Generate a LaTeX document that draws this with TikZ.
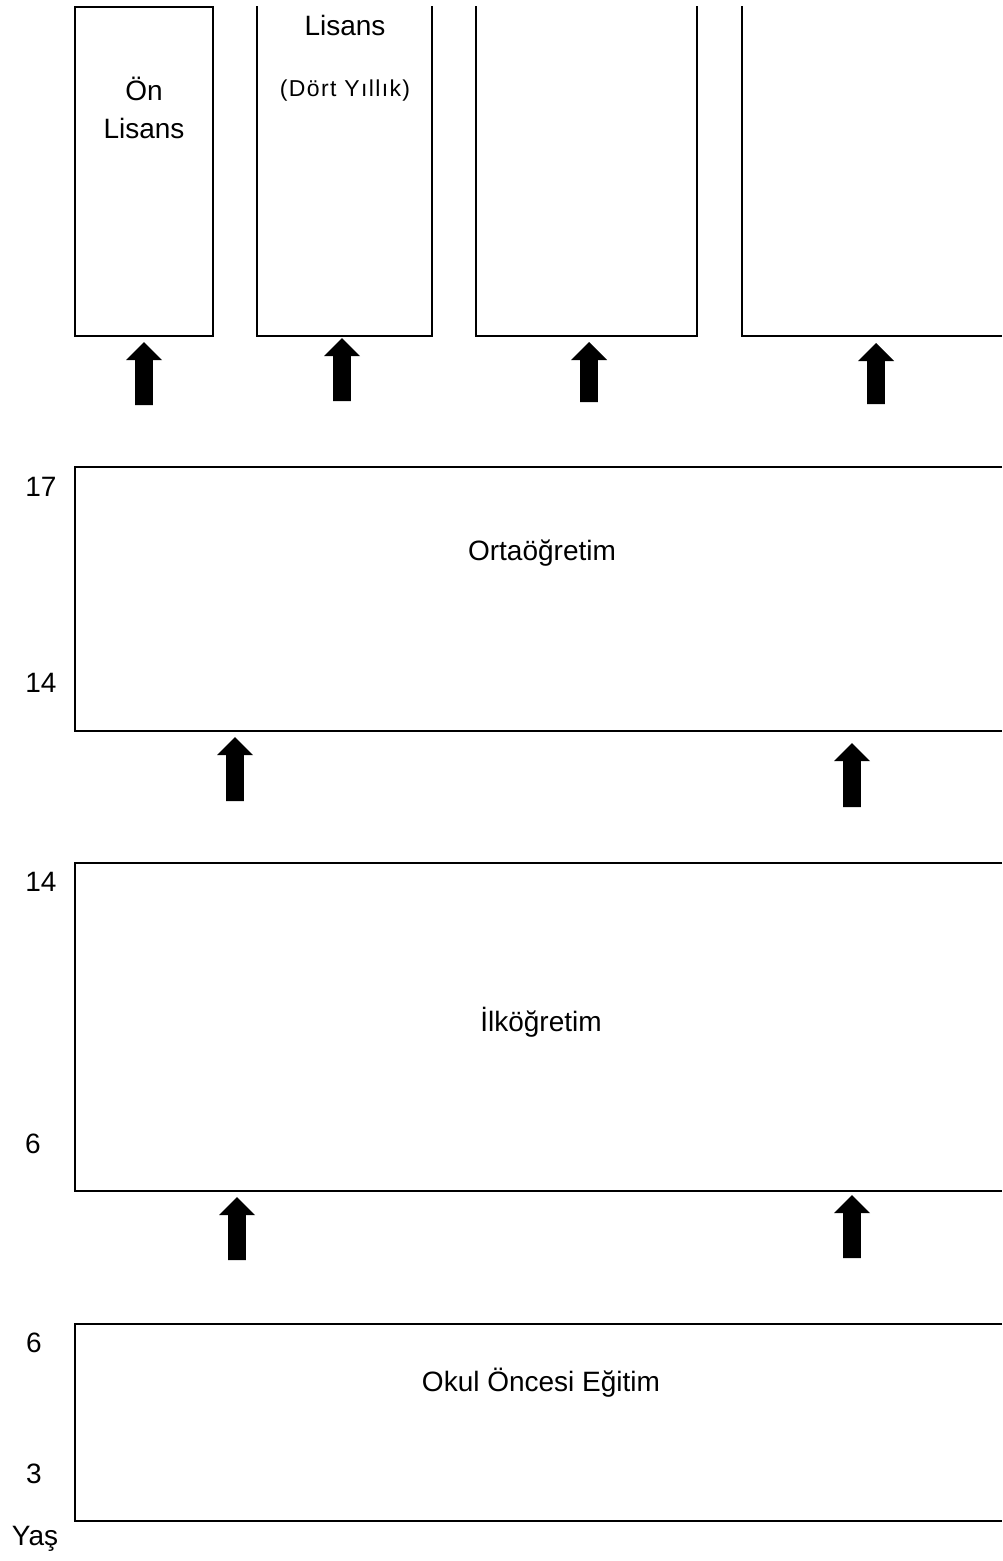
\documentclass[tikz,border=0pt]{standalone}
\usepackage{fontspec}
\setmainfont{Liberation Sans}
\newcommand\blockup[4]{% name, x, tip y, bottom y
  \coordinate (#1) at (#2,#3);
  \fill[arrowfill] ({#2-8.9},#4) -- ({#2-8.9},{#3+18}) -- ({#2-18},{#3+18}) -- (#1)
    -- ({#2+18},{#3+18}) -- ({#2+8.9},{#3+18}) -- ({#2+8.9},#4) -- cycle;}
\begin{document}
\begin{tikzpicture}[x=1pt,y=-1pt,
  boxline/.style={line width=2.2pt, line join=miter},
  arrowfill/.style={fill=black},
  txt/.style={font=\fontsize{28}{32}\selectfont, inner sep=0pt, anchor=base},
  smalltxt/.style={font=\fontsize{23}{27}\selectfont\addfontfeatures{LetterSpace=6}, inner sep=0pt, anchor=base}]
\useasboundingbox (0,0) rectangle (1002,1561);
\fill[white] (0,0) rectangle (1002,1561);

% top boxes
\draw[boxline] (75,7) rectangle (213,336);
\draw[boxline] (257,6) -- (257,336) -- (432,336) -- (432,6);
\draw[boxline] (476,6) -- (476,336) -- (697,336) -- (697,6);
\draw[boxline] (742,6) -- (742,336) -- (1002,336);

% level boxes
\draw[boxline] (1002,467) -- (75,467) -- (75,731) -- (1002,731);
\draw[boxline] (1002,863) -- (75,863) -- (75,1191) -- (1002,1191);
\draw[boxline] (1002,1324) -- (75,1324) -- (75,1521) -- (1002,1521);

% texts
\node[txt] (on1) at (144,100) {Ön};
\node[txt] (on2) at (144,138) {Lisans};
\node[txt] (lis) at (345,35) {Lisans};
\node[smalltxt] (dort) at (345,96.7) {(Dört Yıllık)};
\node[txt] (orta) at (542,560) {Ortaöğretim};
\node[txt] (ilk) at (541,1031) {İlköğretim};
\node[txt] (okul) at (541,1391) {Okul Öncesi Eğitim};

% age labels
\node[txt] (a17) at (41,496) {17};
\node[txt] (a14a) at (41,692) {14};
\node[txt] (a14b) at (41,891) {14};
\node[txt] (a6a) at (33,1153) {6};
\node[txt] (a6b) at (34,1352) {6};
\node[txt] (a3) at (34,1483) {3};
\node[txt] (yas) at (35,1545) {Yaş};

% block arrows
\blockup{u1}{144}{342}{405}
\blockup{u2}{342}{338}{401}
\blockup{u3}{589}{342}{402}
\blockup{u4}{876}{343}{404}
\blockup{u5}{235}{737}{801}
\blockup{u6}{852}{743}{807}
\blockup{u7}{237}{1197}{1260}
\blockup{u8}{852}{1195}{1258}
\end{tikzpicture}
\end{document}
